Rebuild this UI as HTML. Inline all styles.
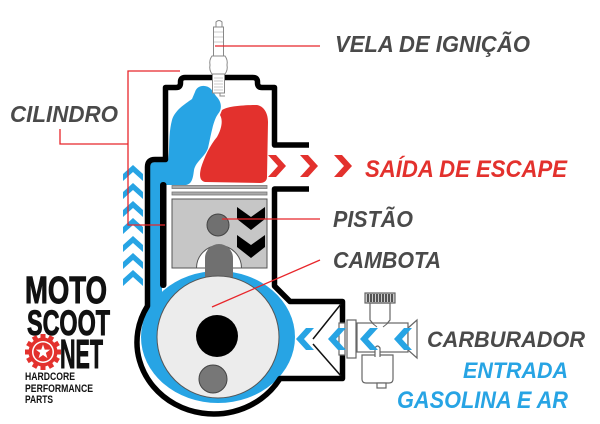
<!DOCTYPE html>
<html><head><meta charset="utf-8"><style>
html,body{margin:0;padding:0;background:#fff;}
svg{display:block}
text{font-family:"Liberation Sans",sans-serif;}
</style></head><body>
<svg width="600" height="424" viewBox="0 0 600 424" xmlns="http://www.w3.org/2000/svg">
<rect width="600" height="424" fill="#fff"/>

<!-- blue areas -->
<ellipse cx="218" cy="337" rx="77" ry="66" fill="#27a4e4"/>
<rect x="148" y="165" width="14" height="150" fill="#27a4e4"/>
<path d="M195,92 C197,85 206,84 211,89 L216,96 C221,101 223,108 218,114 C213,121 211,135 208,148 C205,157 196,161 194,170 C193,178 192,184 186,185 L150,185 L150,163 L168,160 C170,150 168,135 172,120 C175,110 185,104 192,99 Z" fill="#27a4e4"/>

<!-- red blob -->
<path d="M222,110 C228,106 245,105 257,105 C263,106 268,112 268,122 L267,177 C267,181 264,183 260,183 L205,182 C200,181 199,176 201,168 C204,158 210,145 217,137 C222,128 223,120 220,115 Z" fill="#e3312d"/>

<!-- engine outline -->
<path d="M309,145 L274.5,145 L274.5,87.5 L262,87.5 Q257.5,87.5 257.5,83 L257.5,82 Q257.5,77.5 253,77.5 L185,77.5 Q180.5,77.5 180.5,82 L180.5,83 Q180.5,87.5 176,87.5 L165.5,87.5 L165.5,159.5 L155,159.5 Q147.5,159.5 147.5,167 L147.5,306 A76,71 0 0 0 280,378.5 L342.5,378.5 L342.5,301.5 L290,301.5 L274.5,286 L274.5,189 L309,189" fill="none" stroke="#000" stroke-width="5.5" stroke-linejoin="round"/>
<rect x="160" y="182" width="6.5" height="106" rx="3" fill="#000"/>

<!-- reed V lines -->
<path d="M341,304 L313,339 M313,344 L341,376" stroke="#111" stroke-width="1.5" fill="none"/>

<!-- piston rings -->
<rect x="172" y="185.5" width="95" height="3" fill="#aaa" stroke="#777" stroke-width="0.8"/>
<rect x="172" y="192" width="95" height="3" fill="#aaa" stroke="#777" stroke-width="0.8"/>
<!-- piston -->
<rect x="172" y="199" width="95" height="69" fill="#c6c6c6" stroke="#555" stroke-width="1"/>
<path d="M196.5,268 A22.5,22.5 0 0 1 241.5,268 Z" fill="#fff" stroke="#555" stroke-width="1"/>
<!-- conrod -->
<path d="M205,280 L205,258 A14,14 0 0 1 233,258 L233,280 Z" fill="#707070"/>
<circle cx="218" cy="225" r="11" fill="#707070" stroke="#444" stroke-width="1"/>
<!-- piston chevrons -->
<polygon points="237,207 251,217 265,207 265,219 251,230 237,219" fill="#000"/>
<polygon points="237,235 251,245 265,235 265,247 251,258 237,247" fill="#000"/>

<!-- crank -->
<circle cx="218" cy="337" r="61" fill="#ececec" stroke="#555" stroke-width="1"/>
<circle cx="217" cy="336" r="21" fill="#000"/>
<circle cx="213" cy="379" r="14" fill="#777" stroke="#444" stroke-width="1"/>

<!-- spark plug -->
<g fill="#fff" stroke="#888" stroke-width="1">
<path d="M216,27 L216,22 Q219,19 222,22 L222,27 Z"/>
<path d="M213.5,27 L223.5,27 L223.5,56 L213.5,56 Z"/>
<path d="M212,56 L225,56 Q228,60 227,65 Q228,70 225,74 L212,74 Q209,70 210,65 Q209,60 212,56 Z"/>
<rect x="212.5" y="74" width="12" height="19"/>
<path d="M220,93 L220,96 L225,96" fill="none"/>
</g>
<path d="M214,78 L223,78 M214,81 L223,81 M214,84 L223,84 M214,87 L223,87 M214,90 L223,90 M214,32 L223,32 M214,37 L223,37 M214,42 L223,42" stroke="#bbb" stroke-width="0.8"/>

<!-- carburetor -->
<g fill="#fff" stroke="#666" stroke-width="1.2">
<rect x="339" y="323" width="6" height="32"/>
<rect x="347" y="320" width="9" height="38"/>
<path d="M370,303 L390,303 L390,320 L385,326 L375,326 L370,320 Z"/>
<rect x="357" y="323" width="51" height="29"/>
<polygon points="408,328 417,320 417,358 408,350"/>
<path d="M362,355 L393,355 L393,379 Q393,383 389,383 L366,383 Q362,383 362,379 Z"/>
<rect x="377" y="383" width="9" height="5"/>
<path d="M375,357 L375,348 Q377.5,344 380,348 L380,357"/>
<rect x="365" y="293" width="30" height="10" fill="#ccc"/>
</g>
<path d="M368,294 V302 M371,294 V302 M374,294 V302 M377,294 V302 M380,294 V302 M383,294 V302 M386,294 V302 M389,294 V302 M392,294 V302" stroke="#222" stroke-width="1.4"/>
<path d="M372,323 L377,327 M388,323 L383,327" stroke="#666" stroke-width="1"/>

<!-- red exhaust chevrons -->
<g fill="#e3312d">
<polygon points="268,155 276,155 286,166 276,177 268,177 278,166"/>
<polygon points="300,155 308,155 318,166 308,177 300,177 310,166"/>
<polygon points="334,155 342,155 352,166 342,177 334,177 344,166"/>
</g>

<!-- blue intake chevrons -->
<g fill="#27a4e4">
<polygon points="314,328 306,328 296,339 306,350 314,350 304,339"/>
<polygon points="346,328 338,328 328,339 338,350 346,350 336,339"/>
<polygon points="378,328 370,328 360,339 370,350 378,350 368,339"/>
<polygon points="412,328 404,328 394,339 404,350 412,350 402,339"/>
</g>

<!-- blue up chevrons -->
<g fill="#27a4e4">
<polygon points="133,165 143,174 143,181 133,172 123,181 123,174"/>
<polygon points="133,183 143,192 143,199 133,190 123,199 123,192"/>
<polygon points="133,201 143,210 143,217 133,208 123,217 123,210"/>
<polygon points="133,218 143,227 143,234 133,225 123,234 123,227"/>
<polygon points="133,236 143,245 143,252 133,243 123,252 123,245"/>
<polygon points="133,253 143,262 143,269 133,260 123,269 123,262"/>
<polygon points="133,270 143,279 143,286 133,277 123,286 123,279"/>
</g>

<!-- red leader lines -->
<g stroke="#e8262b" stroke-width="1.3" fill="none">
<path d="M215,46 L320,46"/>
<path d="M180,71 L128,71 L128,225 L165,225"/>
<path d="M60,129 L60,144 L128,144"/>
<path d="M222,219 L320,219"/>
<path d="M212,307 L320,260"/>
</g>

<!-- labels -->
<g font-weight="bold" font-style="italic" fill="#4a4a4a">
<text x="335" y="52" font-size="23" textLength="195" lengthAdjust="spacingAndGlyphs">VELA DE IGNIÇÃO</text>
<text x="10" y="122" font-size="23" textLength="108" lengthAdjust="spacingAndGlyphs">CILINDRO</text>
<text x="333" y="227" font-size="23" textLength="80" lengthAdjust="spacingAndGlyphs">PISTÃO</text>
<text x="333" y="268" font-size="23" textLength="108" lengthAdjust="spacingAndGlyphs">CAMBOTA</text>
<text x="427" y="347" font-size="22" textLength="158" lengthAdjust="spacingAndGlyphs">CARBURADOR</text>
</g>
<text x="365" y="177" font-size="24" font-weight="bold" font-style="italic" fill="#e3312d" textLength="202" lengthAdjust="spacingAndGlyphs">SAÍDA DE ESCAPE</text>
<g font-weight="bold" font-style="italic" fill="#27a4e4">
<text x="463" y="378" font-size="22" textLength="105" lengthAdjust="spacingAndGlyphs">ENTRADA</text>
<text x="397" y="408" font-size="24" textLength="171" lengthAdjust="spacingAndGlyphs">GASOLINA E AR</text>
</g>

<!-- logo -->
<g font-weight="bold" fill="#111" stroke="#111" stroke-width="1">
<text x="25" y="303" font-size="38" textLength="82" lengthAdjust="spacingAndGlyphs">MOTO</text>
<text x="27" y="335" font-size="35" textLength="83" lengthAdjust="spacingAndGlyphs">SCOOT</text>
<text x="60" y="368" font-size="41" textLength="43" lengthAdjust="spacingAndGlyphs">NET</text>
</g>
<g transform="translate(43,352)">
<circle r="14.5" fill="#e3312d"/>
<g fill="#e3312d">
<rect x="-2.5" y="-18" width="5" height="6"/>
<rect x="-2.5" y="-18" width="5" height="6" transform="rotate(30)"/>
<rect x="-2.5" y="-18" width="5" height="6" transform="rotate(60)"/>
<rect x="-2.5" y="-18" width="5" height="6" transform="rotate(90)"/>
<rect x="-2.5" y="-18" width="5" height="6" transform="rotate(120)"/>
<rect x="-2.5" y="-18" width="5" height="6" transform="rotate(150)"/>
<rect x="-2.5" y="-18" width="5" height="6" transform="rotate(180)"/>
<rect x="-2.5" y="-18" width="5" height="6" transform="rotate(210)"/>
<rect x="-2.5" y="-18" width="5" height="6" transform="rotate(240)"/>
<rect x="-2.5" y="-18" width="5" height="6" transform="rotate(270)"/>
<rect x="-2.5" y="-18" width="5" height="6" transform="rotate(300)"/>
<rect x="-2.5" y="-18" width="5" height="6" transform="rotate(330)"/>
</g>
<circle r="11" fill="#fff"/>
<circle r="9.5" fill="#e3312d"/>
<polygon points="0,-7.5 1.76,-2.43 7.13,-2.32 2.85,0.93 4.41,6.07 0,3 -4.41,6.07 -2.85,0.93 -7.13,-2.32 -1.76,-2.43" fill="#fff"/>
</g>
<g font-weight="bold" fill="#111">
<text x="25" y="380" font-size="11" textLength="50" lengthAdjust="spacingAndGlyphs">HARDCORE</text>
<text x="25" y="392" font-size="11" textLength="68" lengthAdjust="spacingAndGlyphs">PERFORMANCE</text>
<text x="25" y="403" font-size="11" textLength="28" lengthAdjust="spacingAndGlyphs">PARTS</text>
</g>
</svg>
</body></html>
